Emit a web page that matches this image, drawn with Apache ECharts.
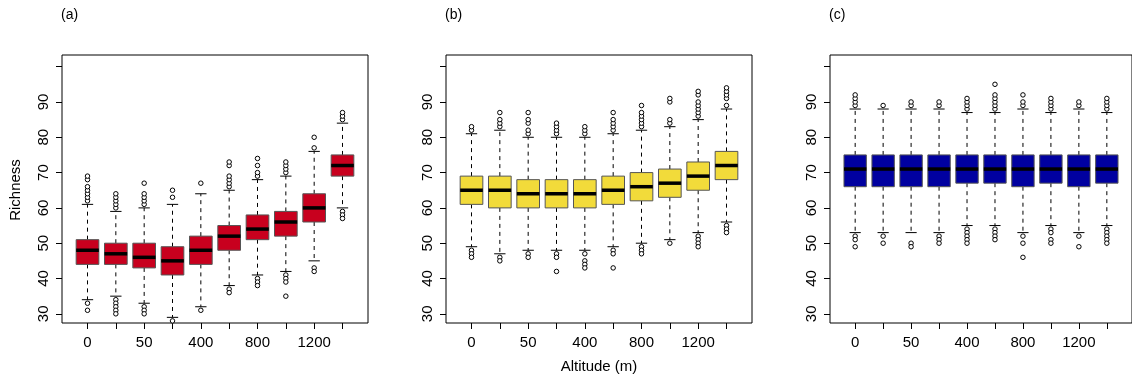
<!DOCTYPE html>
<html>
<head>
<meta charset="utf-8">
<script src="https://cdn.jsdelivr.net/npm/echarts@6/dist/echarts.min.js"></script>
<style>html,body{margin:0;padding:0;background:#fff}#c{width:1132px;height:381px}</style>
</head>
<body>
<div id="c"></div>
<script>
// Altitude classes (only every other label is shown, as in the original)
const categories = ["0", "25", "50", "200", "400", "600", "800", "1000", "1200", "1400"];
const yTicks = [30, 40, 50, 60, 70, 80, 90, 100];
const yTickLabels = [30, 40, 50, 60, 70, 80, 90];

// Box statistics per class: [lower whisker, Q1, median, Q3, upper whisker]
const statsA = [
  [34, 44, 48, 51, 61], [35, 44, 47, 50, 59], [33, 43, 46, 50, 60], [29, 41, 45, 49, 61], [32, 44, 48, 52, 64],
  [38, 48, 52, 55, 65], [41, 51, 54, 58, 68], [42, 52, 56, 59, 69], [45, 56, 60, 64, 76], [60, 69, 72, 75, 84]
];
const outliersA = [
  [62, 63, 64, 65, 66, 68, 69, 33, 31], [60, 61, 62, 63, 64, 34, 33, 32, 31, 30], [61, 62, 63, 64, 67, 32, 31, 30],
  [63, 65, 28], [67, 31], [66, 67, 68, 69, 72, 73, 37, 36], [69, 70, 72, 74, 40, 39, 38],
  [70, 71, 72, 73, 41, 40, 39, 35], [77, 80, 43, 42], [85, 86, 87, 59, 58, 57]
];
const statsB = [
  [49, 61, 65, 69, 81], [47, 60, 65, 69, 82], [48, 60, 64, 68, 80], [48, 60, 64, 68, 80], [48, 60, 64, 68, 80],
  [49, 61, 65, 69, 81], [50, 62, 66, 70, 82], [51, 63, 67, 71, 83], [53, 65, 69, 73, 85], [56, 68, 72, 76, 88]
];
const outliersB = [
  [82, 83, 48, 47, 46], [83, 84, 85, 87, 46, 45], [81, 82, 84, 85, 87, 47, 46], [81, 82, 83, 84, 47, 46, 42],
  [81, 82, 83, 47, 45, 44, 43], [82, 83, 84, 85, 87, 48, 47, 43], [83, 84, 85, 86, 87, 89, 49, 48, 47],
  [84, 85, 90, 91, 50], [86, 87, 88, 89, 90, 92, 93, 52, 51, 50, 49], [89, 91, 92, 93, 94, 55, 54, 53]
];
const statsC = [
  [53, 66, 71, 75, 88], [53, 66, 71, 75, 88], [53, 66, 71, 75, 88], [53, 66, 71, 75, 88], [55, 67, 71, 75, 87],
  [55, 67, 71, 75, 87], [53, 66, 71, 75, 88], [55, 67, 71, 75, 87], [53, 66, 71, 75, 88], [55, 67, 71, 75, 87]
];
const outliersC = [
  [89, 90, 91, 92, 52, 51, 49], [89, 52, 50], [89, 90, 50, 49], [89, 90, 52, 51, 50],
  [88, 89, 90, 91, 54, 53, 52, 51, 50], [88, 89, 90, 91, 92, 95, 54, 53, 52, 51], [89, 90, 92, 52, 50, 46],
  [88, 89, 90, 91, 54, 53, 51, 50], [89, 90, 52, 49], [88, 89, 90, 91, 54, 53, 52, 51, 50]
];
const panelTitles = ["(a)", "(b)", "(c)"];
const panelColors = ["#C8001E", "#F2DB3A", "#0000A0"];

const chart = echarts.init(document.getElementById('c'), null, {renderer: 'canvas'});
const FONT = "Liberation Sans, Arial, Helvetica, sans-serif";
const gridLefts = [62, 446, 830];
const panels = [[statsA, outliersA], [statsB, outliersB], [statsC, outliersC]];

function renderBox(color) {
  return function (params, api) {
    const x = api.value(0);
    const lw = api.value(1), q1 = api.value(2), md = api.value(3), q3 = api.value(4), uw = api.value(5);
    const half = api.size([0.8, 0])[0] / 2;
    const cap = api.size([0.4, 0])[0] / 2;
    const pLw = api.coord([x, lw]), pQ1 = api.coord([x, q1]), pMd = api.coord([x, md]);
    const pQ3 = api.coord([x, q3]), pUw = api.coord([x, uw]);
    const cx = pMd[0];
    const dash = {stroke: '#000', lineWidth: 1, lineDash: [4, 4]};
    const solid = {stroke: '#000', lineWidth: 1};
    return {
      type: 'group',
      children: [
        {type: 'line', shape: {x1: cx, y1: pQ3[1], x2: cx, y2: pUw[1]}, style: dash},
        {type: 'line', shape: {x1: cx, y1: pQ1[1], x2: cx, y2: pLw[1]}, style: dash},
        {type: 'line', shape: {x1: cx - cap, y1: pUw[1], x2: cx + cap, y2: pUw[1]}, style: solid},
        {type: 'line', shape: {x1: cx - cap, y1: pLw[1], x2: cx + cap, y2: pLw[1]}, style: solid},
        {type: 'rect', shape: {x: cx - half, y: pQ3[1], width: 2 * half, height: pQ1[1] - pQ3[1]},
          style: {fill: color, stroke: '#555', lineWidth: 1}},
        {type: 'line', shape: {x1: cx - half, y1: pMd[1], x2: cx + half, y2: pMd[1]},
          style: {stroke: '#000', lineWidth: 3.5}}
      ]
    };
  };
}

const grids = [], xAxes = [], yAxes = [], series = [], titles = [];
panels.forEach(function (p, i) {
  const stats = p[0], outs = p[1];
  grids.push({left: gridLefts[i], top: 55, width: 306, height: 268, show: true,
    borderColor: '#000', borderWidth: 1, backgroundColor: 'transparent', containLabel: false});
  xAxes.push({
    type: 'value', gridIndex: i, min: 0.1, max: 10.9,
    axisLine: {show: false}, splitLine: {show: false},
    axisTick: {show: true, length: 6, lineStyle: {color: '#000'}, customValues: [1, 2, 3, 4, 5, 6, 7, 8, 9, 10]},
    axisLabel: {show: true, margin: 12, color: '#000', fontFamily: FONT, fontSize: 15,
      customValues: [1, 3, 5, 7, 9], formatter: function (v) { return categories[Math.round(v) - 1]; }}
  });
  yAxes.push({
    type: 'value', gridIndex: i, min: 27.4, max: 103.3,
    axisLine: {show: false}, splitLine: {show: false},
    axisTick: {show: true, length: 6, lineStyle: {color: '#000'}, customValues: yTicks},
    axisLabel: {show: true, rotate: 90, margin: 11, color: '#000', fontFamily: FONT, fontSize: 15,
      customValues: yTickLabels}
  });
  series.push({
    type: 'custom', xAxisIndex: i, yAxisIndex: i,
    renderItem: renderBox(panelColors[i]),
    data: stats.map(function (s, k) { return [k + 1].concat(s); }),
    encode: {x: 0, y: [1, 2, 3, 4, 5]}, clip: false, silent: true, z: 2
  });
  const pts = [];
  outs.forEach(function (arr, k) { arr.forEach(function (v) { pts.push([k + 1, v]); }); });
  series.push({
    type: 'scatter', xAxisIndex: i, yAxisIndex: i, data: pts,
    symbol: 'circle', symbolSize: 4.5, silent: true, z: 3,
    itemStyle: {color: '#ffffff', borderColor: '#000000', borderWidth: 1, opacity: 1}
  });
  titles.push({text: panelTitles[i], left: gridLefts[i] - 1, top: 8, padding: 0,
    textStyle: {fontFamily: FONT, fontSize: 14, fontWeight: 'normal', color: '#000'}});
});

chart.setOption({
  animation: false,
  backgroundColor: '#fff',
  title: titles,
  grid: grids,
  xAxis: xAxes,
  yAxis: yAxes,
  series: series,
  graphic: [
    {type: 'text', x: 16, y: 190, rotation: Math.PI / 2,
      style: {text: 'Richness', fontFamily: FONT, fontSize: 15, fill: '#000', align: 'center', verticalAlign: 'middle'}},
    {type: 'text', x: 599, y: 367,
      style: {text: 'Altitude (m)', fontFamily: FONT, fontSize: 15, fill: '#000', align: 'center', verticalAlign: 'middle'}}
  ]
});
</script>
</body>
</html>
